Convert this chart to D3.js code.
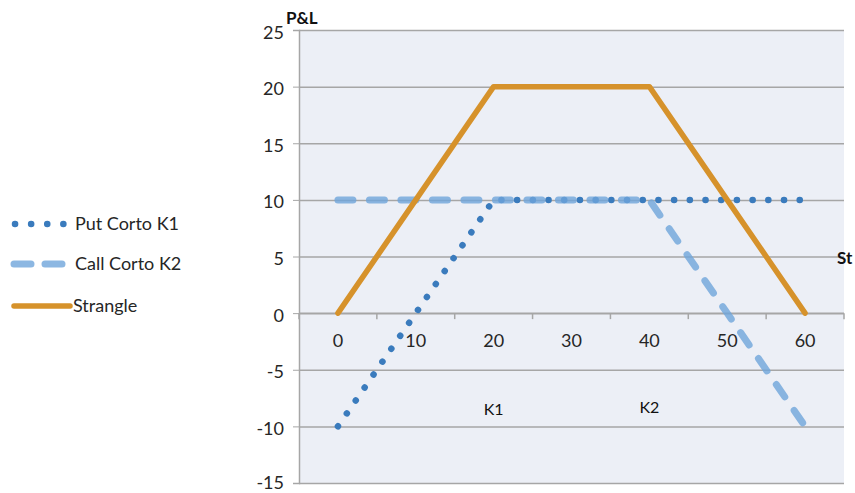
<!DOCTYPE html>
<html>
<head>
<meta charset="utf-8">
<script src="https://cdn.jsdelivr.net/npm/d3@7"></script>
<style>
  html, body { margin: 0; padding: 0; background: #fff; }
  svg { display: block; font-family: Lato, "Open Sans", sans-serif; }
</style>
</head>
<body>
<svg id="chart" width="855" height="493"></svg>
<script>
// Strike price categories (St)
const categories = [0, 10, 20, 30, 40, 50, 60];
// P&L of each leg and of the combined strangle
const putCortoK1 = [-10, 0, 10, 10, 10, 10, 10];
const callCortoK2 = [10, 10, 10, 10, 10, 0, -10];
const strangle = [0, 10, 20, 20, 20, 10, 0];
const yTicks = [-15, -10, -5, 0, 5, 10, 15, 20, 25];

const svg = d3.select("#chart");
const plot = { left: 299, right: 844, top: 30, bottom: 483 };

const x = d3.scaleBand().domain(categories).range([plot.left, plot.right]).padding(0);
const y = d3.scaleLinear().domain([-15, 25]).range([plot.bottom, plot.top]);
const cx = c => x(c) + x.bandwidth() / 2;

// plot background
svg.append("rect")
  .attr("x", plot.left).attr("y", plot.top)
  .attr("width", plot.right - plot.left).attr("height", plot.bottom - plot.top)
  .attr("fill", "#eceff6");

// horizontal gridlines + y labels (plain hyphen for negatives)
const yAxis = d3.axisLeft(y).tickValues(yTicks).tickSize(6).tickPadding(10)
  .tickFormat(d => String(d));
const gy = svg.append("g").attr("transform", `translate(${plot.left},0)`).call(yAxis);
gy.select(".domain").attr("stroke", "#a6a6a6").attr("stroke-width", 1.5);
gy.selectAll(".tick line").attr("stroke", "#a6a6a6");
gy.selectAll(".tick text").attr("font-size", 18).attr("fill", "#262626")
  .attr("font-family", "Lato, sans-serif")
  .attr("dy", d => d === -15 ? "0.3em" : "0.45em").attr("x", -15);
gy.selectAll(".tick").append("line")
  .attr("x1", 0).attr("x2", plot.right - plot.left)
  .attr("stroke", "#a6a6a6").attr("stroke-width", 1.5);

// category axis at P&L = 0
const xAxis = d3.axisBottom(x).tickSize(0).tickPadding(21);
const gx = svg.append("g").attr("transform", `translate(0,${y(0)})`).call(xAxis);
gx.select(".domain").remove();
gx.selectAll(".tick text").attr("font-size", 18).attr("fill", "#262626")
  .attr("font-family", "Lato, sans-serif");
gx.append("line").attr("x1", plot.left).attr("x2", plot.right)
  .attr("stroke", "#a6a6a6").attr("stroke-width", 1.5);
gx.selectAll(".boundary").data(categories.concat(["end"])).enter().append("line")
  .attr("x1", (d, i) => i < categories.length ? x(d) : plot.right)
  .attr("x2", (d, i) => i < categories.length ? x(d) : plot.right)
  .attr("y1", 0).attr("y2", 6)
  .attr("stroke", "#a6a6a6").attr("stroke-width", 1.5);

// series
const line = d3.line().x((d, i) => cx(categories[i])).y(d => y(d));
const series = [
  { name: "Put Corto K1", values: putCortoK1, color: "#3a7bbd", width: 6.5, dash: "0.1 15.6", opacity: 1 },
  { name: "Call Corto K2", values: callCortoK2, color: "#6fa5db", width: 7, dash: "15 16.5", opacity: 0.8 },
  { name: "Strangle", values: strangle, color: "#d6922b", width: 5.5, dash: null, opacity: 1 }
];

svg.selectAll(".series").data(series).enter().append("path")
  .attr("class", "series")
  .attr("d", d => line(d.values))
  .attr("fill", "none")
  .attr("stroke", d => d.color)
  .attr("stroke-width", d => d.width)
  .attr("stroke-dasharray", d => d.dash)
  .attr("stroke-linecap", "round")
  .attr("stroke-linejoin", "round")
  .attr("stroke-opacity", d => d.opacity);

// axis titles and strike markers
svg.append("text").attr("x", 286).attr("y", 24).attr("font-size", 17).attr("font-weight", "bold")
  .attr("fill", "#111").text("P&L");
svg.append("text").attr("x", 837).attr("y", 264).attr("font-size", 17).attr("font-weight", "bold")
  .attr("fill", "#111").text("St");
svg.append("text").attr("x", cx(20)).attr("y", 415).attr("text-anchor", "middle")
  .attr("font-size", 16).attr("fill", "#111").text("K1");
svg.append("text").attr("x", cx(40)).attr("y", 413).attr("text-anchor", "middle")
  .attr("font-size", 16).attr("fill", "#111").text("K2");

// legend
const legendY = [224, 264, 306];
const leg = svg.selectAll(".legend").data(series).enter().append("g")
  .attr("class", "legend")
  .attr("transform", (d, i) => `translate(0,${legendY[i]})`);
leg.append("line")
  .attr("x1", (d, i) => i === 0 ? 15 : 14)
  .attr("x2", (d, i) => i === 0 ? 64 : (i === 1 ? 66 : 70))
  .attr("stroke", d => d.color)
  .attr("stroke-width", d => d.width)
  .attr("stroke-dasharray", (d, i) => i === 0 ? "0.1 16" : (i === 1 ? "17 14" : null))
  .attr("stroke-linecap", "round")
  .attr("stroke-opacity", d => d.opacity);
leg.append("text").attr("x", (d, i) => i === 2 ? 73 : 75).attr("y", 6)
  .attr("font-size", 18).attr("fill", "#262626").text(d => d.name);
</script>
</body>
</html>
